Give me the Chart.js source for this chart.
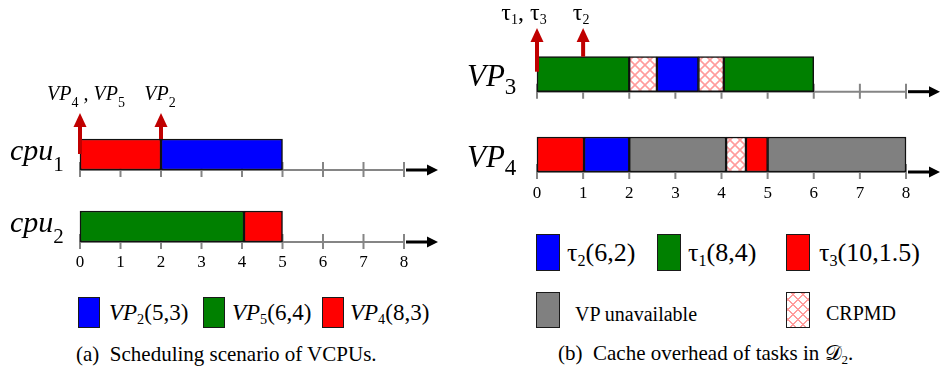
<!DOCTYPE html>
<html>
<head>
<meta charset="utf-8">
<script src="https://cdn.jsdelivr.net/npm/chart.js@4.4.1/dist/chart.umd.min.js"></script>
<style>
  html, body { margin: 0; padding: 0; background: #fff; }
  #wrap { position: relative; width: 941px; height: 373px; overflow: hidden;
          font-family: "Liberation Serif", "Times New Roman", serif; color: #000; }
  #wrap canvas { position: absolute; }
  .sw { position: absolute; box-sizing: border-box; border: 1.5px solid #1a1a1a; }
  .tx { position: absolute; white-space: pre; line-height: 1; }
  .tx sub { font-size: 0.62em; vertical-align: baseline; position: relative; top: 0.3em; }
  .crpmd {
    background-color: #fff;
    background-image:
      repeating-linear-gradient(45deg, transparent 0 5.3px, #ff9c9c 5.3px 7px),
      repeating-linear-gradient(-45deg, transparent 0 5.3px, #ff9c9c 5.3px 7px);
  }
</style>
</head>
<body>
<div id="wrap">
  <canvas id="cpuChart" width="470" height="280" style="left:0;top:0"></canvas>
  <canvas id="vpChart" width="491" height="210" style="left:450px;top:0"></canvas>
</div>
<script>
// ---- time axis ----
const timeTicks = [0, 1, 2, 3, 4, 5, 6, 7, 8];

// ---- (a) VCPUs scheduled on the physical cores ----
const cpuRows = ['cpu_1', 'cpu_2'];
const vp2Slots = [[2, 5], null];        // VP2 (5,3)
const vp5Slots = [null, [0, 4.05]];     // VP5 (6,4)
const vp4Slots = [[0, 2], [4.05, 5]];   // VP4 (8,3)
const vcpuReleaseTimes = [0, 2];
const vcpuReleaseLabels = ['VP_4 , VP_5', 'VP_2'];
const vcpuLegendNames = ['VP_2', 'VP_5', 'VP_4'];
const vcpuLegendParams = ['(5,3)', '(6,4)', '(8,3)'];

// ---- (b) tasks of D2 running inside VP3 / VP4 ----
const vpRows = ['VP_3', 'VP_4'];
const vp3Starts = [0, 2, 2.6, 3.5, 4.05];
const vp3Ends   = [2, 2.6, 3.5, 4.05, 6];
const vp3Kinds  = ['tau1', 'crpmd', 'tau2', 'crpmd', 'tau1'];
const vp4Starts = [0, 1.02, 2, 4.1, 4.53, 5];
const vp4Ends   = [1.02, 2, 4.1, 4.53, 5, 8];
const vp4Kinds  = ['tau3', 'tau2', 'off', 'crpmd', 'tau3', 'off'];
const taskReleaseTimes = [0, 1];
const taskReleaseLabels = ['τ_1, τ_3', 'τ_2'];
const taskLegendNames = ['τ_2', 'τ_1', 'τ_3'];
const taskLegendParams = ['(6,2)', '(8,4)', '(10,1.5)'];

// ---- colours ----
const BLUE = '#0000ff', GREEN = '#008000', RED = '#ff0000', GRAY = '#808080';
const ARROW_RED = '#c00000';
const FAMILY = '"Liberation Serif", "Times New Roman", serif';

// cross-hatched fill used for cache-related preemption delay
function makeHatch() {
  const c = document.createElement('canvas');
  c.width = 10; c.height = 10;
  const g = c.getContext('2d');
  g.fillStyle = '#fff'; g.fillRect(0, 0, 10, 10);
  g.strokeStyle = '#ff9c9c'; g.lineWidth = 1.6;
  g.beginPath();
  g.moveTo(-1, -1); g.lineTo(11, 11);
  g.moveTo(11, -1); g.lineTo(-1, 11);
  g.stroke();
  return g.createPattern(c, 'repeat');
}
const HATCH = makeHatch();
const kindColor = { tau1: GREEN, tau2: BLUE, tau3: RED, off: GRAY, crpmd: HATCH };

// text with "_x" subscripts drawn on the canvas
function drawRich(ctx, text, x, y, st, align) {
  const runs = [];
  text.split(/(_\w)/).forEach(s => {
    if (!s) return;
    if (s[0] === '_') runs.push({ t: s.slice(1), sub: true });
    else runs.push({ t: s, sub: false });
  });
  const fontOf = r => r.sub ? `${st.subSize}px ${FAMILY}`
                            : `${st.italic ? 'italic ' : ''}${st.size}px ${FAMILY}`;
  let w = 0;
  runs.forEach(r => { ctx.font = fontOf(r); r.w = ctx.measureText(r.t).width; w += r.w; });
  let cx = align === 'center' ? x - w / 2 : x;
  ctx.textAlign = 'left'; ctx.textBaseline = 'alphabetic'; ctx.fillStyle = '#000';
  runs.forEach(r => {
    ctx.font = fontOf(r);
    ctx.fillText(r.t, cx, r.sub ? y + st.subDy : y);
    cx += r.w;
  });
}

// per-row time axes, release arrows and labels
function makeTimeline(cfg) {
  return {
    id: 'timeline',
    beforeDatasetsDraw(chart) {
      const { ctx } = chart;
      const xs = chart.scales.x, ys = chart.scales.y;
      const half = cfg.barThickness / 2;
      const x0 = xs.getPixelForValue(timeTicks[0]);
      const x8 = xs.getPixelForValue(timeTicks[timeTicks.length - 1]);
      chart.data.labels.forEach((lab, i) => {
        const yl = ys.getPixelForValue(i) + half;
        ctx.save();
        ctx.strokeStyle = '#858585'; ctx.lineWidth = 2;
        ctx.beginPath();
        ctx.moveTo(x0, yl); ctx.lineTo(x8, yl);
        timeTicks.forEach(t => {
          const px = xs.getPixelForValue(t);
          ctx.moveTo(px, yl - 8); ctx.lineTo(px, yl + 7);
        });
        ctx.stroke();
        // black arrow continuing the time axis
        const end = cfg.axisArrowEnd;
        ctx.strokeStyle = '#000'; ctx.fillStyle = '#000'; ctx.lineWidth = 3;
        ctx.beginPath(); ctx.moveTo(x8 + 2, yl); ctx.lineTo(end - 9, yl); ctx.stroke();
        ctx.beginPath();
        ctx.moveTo(end, yl); ctx.lineTo(end - 11, yl - 5.5); ctx.lineTo(end - 11, yl + 5.5);
        ctx.closePath(); ctx.fill();
        ctx.restore();
      });
    },
    afterDatasetsDraw(chart) {
      const { ctx } = chart;
      const xs = chart.scales.x, ys = chart.scales.y;
      const half = cfg.barThickness / 2;
      ctx.save();
      // release arrows
      const barTop = ys.getPixelForValue(0) - half;
      cfg.releases.forEach((t, k) => {
        const px = xs.getPixelForValue(t);
        const bottom = barTop + cfg.arrowDepth[k];
        const tip = cfg.arrowTipY, head = 14;
        ctx.fillStyle = ARROW_RED;
        ctx.fillRect(px - 2, tip + head - 1, 4, bottom - tip - head + 1);
        ctx.beginPath();
        ctx.moveTo(px, tip); ctx.lineTo(px - 6.5, tip + head); ctx.lineTo(px + 6.5, tip + head);
        ctx.closePath(); ctx.fill();
        drawRich(ctx, cfg.releaseLabels[k], px + cfg.releaseLabelShift[k], cfg.releaseLabelY,
                 cfg.releaseLabelStyle, 'center');
      });
      // row names
      chart.data.labels.forEach((lab, i) => {
        drawRich(ctx, lab, cfg.rowLabelX, ys.getPixelForValue(i) + cfg.rowLabelDy,
                 cfg.rowLabelStyle, 'left');
      });
      // tick numbers under the last row
      const lastLine = ys.getPixelForValue(chart.data.labels.length - 1) + half;
      ctx.font = `${cfg.tickFont}px ${FAMILY}`;
      ctx.fillStyle = '#000'; ctx.textAlign = 'center'; ctx.textBaseline = 'alphabetic';
      timeTicks.forEach(t => ctx.fillText(String(t), xs.getPixelForValue(t), lastLine + cfg.tickLabelDy));
      ctx.restore();
    }
  };
}

function baseOptions(pad, thickness) {
  return {
    responsive: false, animation: false, devicePixelRatio: 1, events: [],
    indexAxis: 'y',
    layout: { padding: pad },
    datasets: { bar: { grouped: false, barThickness: thickness, clip: false,
                       borderColor: '#111', borderWidth: 1.5, borderSkipped: false } },
    scales: {
      x: { type: 'linear', min: 0, max: 8, display: false },
      y: { type: 'category', offset: false, display: false }
    },
    plugins: { legend: { display: false }, tooltip: { enabled: false } }
  };
}

// ---- (a) chart ----
new Chart(document.getElementById('cpuChart'), {
  type: 'bar',
  data: {
    labels: cpuRows,
    datasets: [
      { label: 'VP2', data: vp2Slots, backgroundColor: BLUE },
      { label: 'VP5', data: vp5Slots, backgroundColor: GREEN },
      { label: 'VP4', data: vp4Slots, backgroundColor: RED }
    ]
  },
  options: baseOptions({ left: 80, right: 66, top: 154.5, bottom: 53.5 }, 31),
  plugins: [makeTimeline({
    barThickness: 31,
    releases: vcpuReleaseTimes, releaseLabels: vcpuReleaseLabels,
    arrowTipY: 113, arrowDepth: [15, 0], releaseLabelY: 100, releaseLabelShift: [6, -1],
    releaseLabelStyle: { size: 20, subSize: 14, subDy: 7, italic: true },
    rowLabelX: 10, rowLabelDy: 5.5,
    rowLabelStyle: { size: 30, subSize: 21, subDy: 10.5, italic: true },
    axisArrowEnd: 438, tickFont: 17, tickLabelDy: 25
  })]
});

// ---- (b) chart: one dataset per slot position, bars coloured by kind ----
const slotCount = Math.max(vp3Starts.length, vp4Starts.length);
const vpDatasets = [];
for (let i = 0; i < slotCount; i++) {
  const a = i < vp3Starts.length ? [vp3Starts[i], vp3Ends[i]] : null;
  const b = i < vp4Starts.length ? [vp4Starts[i], vp4Ends[i]] : null;
  vpDatasets.push({
    label: 'slot ' + i,
    data: [a, b],
    backgroundColor: [a ? kindColor[vp3Kinds[i]] : '#fff', b ? kindColor[vp4Kinds[i]] : '#fff']
  });
}
new Chart(document.getElementById('vpChart'), {
  type: 'bar',
  data: { labels: vpRows, datasets: vpDatasets },
  options: baseOptions({ left: 87, right: 35, top: 74.2, bottom: 55.5 }, 35),
  plugins: [makeTimeline({
    barThickness: 35,
    releases: taskReleaseTimes, releaseLabels: taskReleaseLabels,
    arrowTipY: 28, arrowDepth: [15, 0], releaseLabelY: 20, releaseLabelShift: [-13, -2],
    releaseLabelStyle: { size: 24, subSize: 14, subDy: 4, italic: false },
    rowLabelX: 17, rowLabelDy: 12,
    rowLabelStyle: { size: 31, subSize: 23, subDy: 8, italic: true },
    axisArrowEnd: 490, tickFont: 17, tickLabelDy: 26
  })]
});

// ---- legends and captions ----
const wrap = document.getElementById('wrap');
function swatch(x, y, w, h, fill) {
  const d = document.createElement('div');
  d.className = 'sw';
  if (fill === 'crpmd') d.classList.add('crpmd'); else d.style.background = fill;
  Object.assign(d.style, { left: x + 'px', top: y + 'px', width: w + 'px', height: h + 'px' });
  wrap.appendChild(d);
}
// places a line of text so that its baseline sits at y (line-height 1, Liberation Serif)
function label(html, x, baseline, size) {
  const d = document.createElement('div');
  d.className = 'tx';
  d.innerHTML = html;
  Object.assign(d.style, { left: x + 'px', top: (baseline - 0.8375 * size) + 'px', fontSize: size + 'px' });
  wrap.appendChild(d);
}
function richHtml(name, italic) {
  return name.replace(/^([^_]+)_(\w)$/, (m, a, b) => (italic ? '<i>' + a + '</i>' : a) + '<sub>' + b + '</sub>');
}

const vcpuColors = [BLUE, GREEN, RED];
const vcpuSwatchX = [78, 203, 322], vcpuTextX = [109, 232, 350];
vcpuLegendNames.forEach((n, i) => {
  swatch(vcpuSwatchX[i], 297, 22, 31, vcpuColors[i]);
  label(richHtml(n, true) + vcpuLegendParams[i], vcpuTextX[i], 320, 23);
});

const taskColors = [BLUE, GREEN, RED];
const taskSwatchX = [536, 657, 786], taskTextX = [567, 688, 819];
taskLegendNames.forEach((n, i) => {
  swatch(taskSwatchX[i], 234, 24, 37, taskColors[i]);
  label(richHtml(n, false) + taskLegendParams[i], taskTextX[i], 262, 26);
});
swatch(536, 292, 24, 36, GRAY);
label('VP unavailable', 575, 321, 20);
swatch(786, 292, 24, 36, 'crpmd');
label('CRPMD', 826, 320, 20);

label('(a)  Scheduling scenario of VCPUs.', 76, 362, 21);
label('(b)  Cache overhead of tasks in <span style="font-family:\'DejaVu Serif\',\'DejaVu Sans\'">𝒟</span><sub>2</sub>.', 558, 361, 21);
</script>
</body>
</html>
